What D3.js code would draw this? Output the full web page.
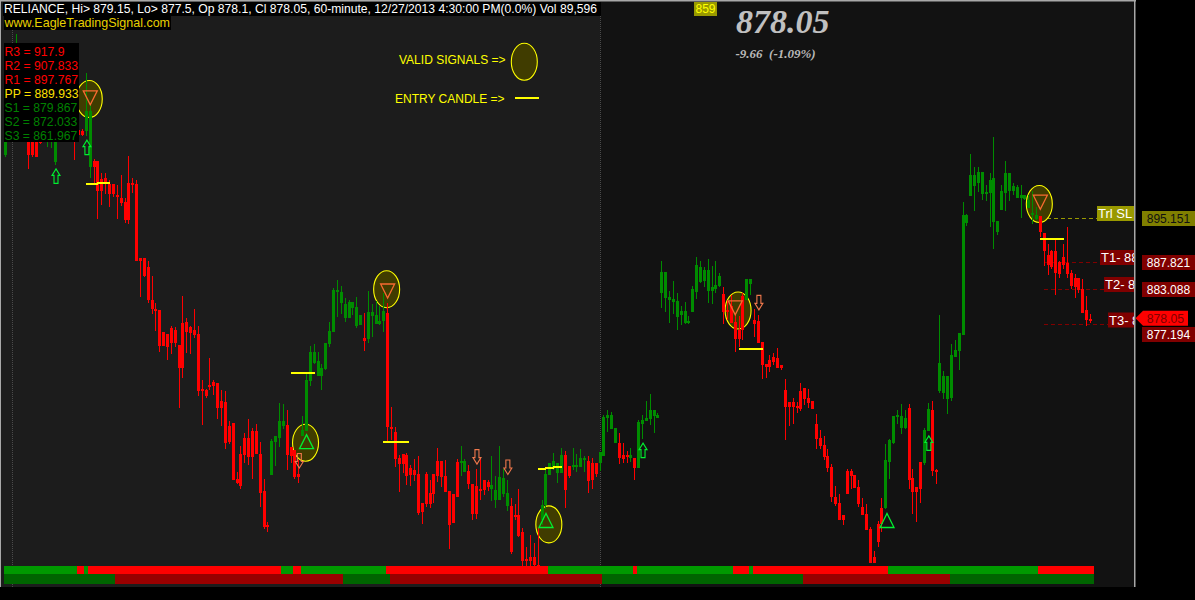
<!DOCTYPE html>
<html><head><meta charset="utf-8"><title>RELIANCE 60-minute</title>
<script src="https://cdn.jsdelivr.net/npm/d3@7/dist/d3.min.js"></script>
<style>html,body{margin:0;padding:0;background:#000;overflow:hidden}svg{display:block}text{font-family:"Liberation Sans",Arial,sans-serif}</style>
</head><body><svg id="c" width="1195" height="600"></svg>
<script>
// each row: open, high, low, close
const barsOpening = [
[905.7,910.7,905.3,909.8],[909.8,913.2,909.0,912.3],[910.0,914.0,909.0,912.0],[909.8,925.8,908.2,914.8],[910.0,915.0,909.0,913.0],[910.0,914.0,909.0,912.0],
[909.8,911.5,903.3,905.7],[909.8,911.5,905.3,905.7],[909.8,910.7,905.3,905.3],[909.0,909.8,907.5,907.7],[909.8,910.2,908.0,908.2],
[909.0,911.5,907.0,910.7],[909.0,911.8,906.8,910.7],[904.5,912.3,904.0,911.5],[909.8,913.2,909.0,912.3],[910.0,914.0,909.5,913.0],[910.0,913.5,909.5,912.5],[910.0,913.5,909.5,912.0],
[910.7,911.5,904.8,909.0],[909.8,911.5,908.0,909.0],[909.7,910.0,908.8,909.0],[909.7,919.3,908.8,913.0],[903.7,914.0,901.8,913.0]];
const barsFirstFall = [
[904.7,905.0,901.0,903.7],[904.7,904.7,895.0,899.7],[901.7,902.7,897.3,899.7],[901.8,902.7,899.2,901.2],[900.8,901.5,897.0,899.2],[900.8,900.8,898.7,899.2],
[899.0,900.7,895.0,898.7],[898.5,902.3,897.2,897.7],[897.8,898.5,894.3,894.8],[901.0,905.5,894.2,894.8],[901.0,901.8,899.3,900.7],[900.8,901.5,888.0,888.0],
[888.5,888.5,882.0,888.0],[888.5,888.5,885.3,885.5],[887.0,888.0,881.0,881.5],[881.5,885.5,879.2,880.0],[880.0,881.0,876.3,879.7],[879.8,879.8,872.8,873.8],
[876.2,876.2,873.8,873.8],[875.8,875.8,871.5,873.7],[876.8,877.2,872.5,874.3],[876.5,877.0,873.7,874.3],[874.0,874.0,863.5,870.2],[877.7,882.2,868.5,870.2],
[877.8,878.5,872.7,876.2],[877.0,877.2,872.5,876.0],[876.5,880.0,875.2,875.7],[875.8,877.2,865.5,866.3],[866.7,868.2,860.7,866.3],[866.5,866.7,865.2,865.5],
[867.3,871.8,866.5,867.2],[867.8,868.2,865.7,867.2],[867.7,867.7,861.7,863.5],[864.7,866.5,860.5,863.5],[864.5,866.3,856.7,857.7],[860.5,861.3,857.5,857.8],
[861.0,861.0,851.5,851.5],[851.7,852.8,850.8,851.0],[855.8,857.2,850.0,850.5],[858.5,859.3,854.3,855.7],[858.5,861.7,854.0,855.3],[859.7,860.2,851.7,855.3],
[859.7,860.8,855.8,855.8],[855.8,857.8,847.0,849.3],[849.7,851.7,843.3,843.7],[844.0,844.5,842.8,843.7]];
const barsFirstRise = [
[852.3,858.3,852.3,858.0],[857.8,858.8,853.8,858.8],[858.5,864.3,857.0,861.3],[860.5,864.2,860.0,861.3],[860.7,863.2,853.2,855.7],[857.0,857.0,854.3,855.5],
[856.5,856.5,851.7,852.0],[852.5,854.8,851.0,852.0],[858.8,862.2,858.8,859.8],[859.7,869.3,859.7,868.2],[868.0,873.8,867.2,872.8],[871.0,874.2,870.8,872.8],
[868.8,872.8,868.8,871.3],[868.8,870.8,866.5,870.2],[870.0,874.3,869.8,874.3],[874.2,877.8,873.7,876.3],[876.2,883.5,876.2,883.2],[883.0,884.8,878.7,883.2],
[881.0,883.8,879.2,882.8],[878.5,881.8,877.8,880.8],[878.5,881.5,878.5,881.2],[880.2,881.2,879.0,881.2],[877.2,882.0,876.8,880.3],[877.3,879.0,877.3,879.0],
[875.2,879.3,873.0,874.7],[875.0,883.0,874.3,879.5],[878.8,880.8,875.3,879.5],[877.5,881.3,877.5,879.0],[877.5,880.5,877.3,878.0],[878.0,882.7,876.2,879.7]];
const barsSecondFall = [
[879.3,881.0,857.7,860.3],[860.3,863.7,858.2,860.0],[859.5,860.3,853.7,855.0],[855.2,855.7,849.5,854.2],[855.8,855.8,852.7,854.2],[855.7,856.0,850.7,852.2],
[853.5,854.0,850.5,852.3],[853.2,855.0,851.3,852.3],[852.5,855.5,845.7,846.0],[847.7,847.7,844.2,846.2],[852.5,852.8,847.0,847.5],[849.3,851.5,846.8,847.5],
[852.5,852.5,847.7,849.2],[854.7,856.8,851.2,852.2],[854.7,854.7,850.3,852.0],[852.2,854.8,849.5,849.5],[849.7,849.7,840.0,844.0],[849.2,849.2,844.3,844.3],
[854.5,855.0,848.7,848.7],[854.3,857.2,852.2,854.7],[852.8,855.0,852.8,854.7],[853.0,854.0,850.0,850.8],[850.8,850.8,844.8,845.8],[850.5,853.3,845.0,845.8],
[850.0,855.0,848.2,849.8],[851.5,851.5,849.0,849.8],[851.2,851.5,849.7,850.3],[850.0,855.5,848.0,850.7],[848.2,852.2,846.8,849.8],[848.2,857.2,848.2,852.0],
[849.2,853.3,848.7,851.8],[847.2,851.5,846.3,849.3],[847.2,848.5,839.2,839.5],[845.7,847.5,844.8,845.5],[845.7,850.0,842.0,842.2],[842.8,843.5,837.2,838.0],
[838.3,840.3,837.2,838.2],[838.7,842.3,837.2,838.0],[838.7,841.0,837.2,837.3],[837.3,843.5,837.2,837.2]];
const barsMiddle = [
[844.8,848.2,844.0,847.3],[847.3,853.2,846.7,852.5],[852.3,854.3,852.3,854.3],[853.3,856.0,853.2,854.7],[852.7,854.3,851.0,854.3],[852.7,856.8,852.7,855.7],
[855.7,856.3,846.8,849.8],[853.8,853.8,851.8,852.2],[853.7,856.8,853.2,854.0],[853.7,855.8,852.8,854.0],[853.7,856.7,853.7,855.2],[854.8,855.5,852.8,855.2],
[854.7,855.5,849.3,851.3],[854.3,855.2,850.0,851.5],[854.3,854.3,852.0,852.5],[854.3,856.2,853.0,856.2],[855.5,862.3,855.5,862.0],[861.8,863.2,859.5,862.3],
[860.0,862.8,860.0,862.3],[857.7,860.2,857.7,860.2],[857.7,859.3,854.2,855.2],[855.7,857.7,854.3,855.0],[855.7,856.3,854.3,855.5],[855.2,856.8,854.5,855.7],
[855.2,855.2,851.5,853.5],[853.5,861.5,853.5,861.2],[860.8,862.3,858.3,861.5],[861.3,864.7,861.3,861.8],[861.7,865.8,860.7,863.2],[862.2,863.2,859.3,863.2],[861.8,862.7,861.8,862.3]];
const barsGapUp = [
[882.7,888.0,880.2,886.2],[881.8,886.2,879.5,886.2],[881.5,883.0,877.7,882.0],[881.2,884.7,879.2,881.7],[878.7,882.7,876.5,881.3],[879.0,880.5,877.3,879.7],
[877.7,881.2,877.5,879.7],[877.7,878.8,877.5,878.0],[879.5,883.8,879.5,883.3],[882.8,888.7,881.7,887.3],[884.5,888.0,884.3,887.0],[884.7,887.0,883.7,886.5],
[883.0,888.3,881.0,886.5],[883.0,887.2,880.8,883.7],[883.3,888.0,882.7,884.0],[883.8,886.0,883.7,885.5],[882.5,883.7,877.5,879.5],[879.8,881.5,878.2,879.5],
[880.5,882.3,877.7,877.7],[877.8,879.0,872.8,875.0],[876.5,878.8,873.7,875.0],[882.2,882.7,874.8,876.5],[881.5,885.0,881.5,885.0],[884.2,885.0,882.3,885.0]];
const barsThirdFall = [
[878.2,880.0,875.3,877.5],[878.0,879.0,874.3,874.3],[874.5,874.5,868.3,870.7],[870.8,870.8,868.5,870.3],[871.5,872.3,869.5,870.3],[872.0,872.7,870.7,871.2],
[871.8,873.5,870.2,870.2],[870.7,870.7,869.8,870.2],[866.5,868.3,858.2,863.7],[864.5,864.5,860.5,863.7],[864.5,865.2,860.8,863.7],[863.8,864.5,862.7,863.5],
[866.3,867.7,863.0,863.3],[866.8,866.8,864.0,865.0],[865.2,866.7,863.5,864.3],[864.7,864.7,863.3,863.3],[860.8,862.5,856.7,858.3],[858.5,859.8,856.7,857.2],
[857.3,858.8,854.8,855.3],[855.5,856.7,852.8,853.5],[853.7,854.2,847.8,848.7],[848.7,850.5,847.2,847.5],[847.7,849.2,844.8,844.8],[845.7,845.7,844.0,844.8],
[853.0,853.3,849.2,849.2],[853.0,853.3,850.0,852.2],[852.3,852.3,850.2,850.2],[850.3,851.5,847.0,847.5],[847.0,848.5,845.7,845.7],[845.8,847.5,843.2,843.2],
[843.3,843.7,837.7,837.7],[838.7,839.7,837.7,837.7],[844.2,844.7,840.3,841.2],[846.8,848.5,842.8,844.2]];
const barsSecondRise = [
[846.8,857.5,846.7,854.8],[854.5,858.3,851.7,858.2],[857.7,862.2,857.5,862.2],[862.0,863.2,860.8,862.3],[860.2,864.2,859.2,862.2],[860.2,863.2,860.0,861.8],
[863.5,864.2,850.0,851.5],[851.8,853.3,845.8,849.5],[850.3,850.3,844.5,849.5],[854.5,854.5,847.7,850.0],[854.3,860.2,854.0,859.8],[859.7,864.3,859.7,863.3],
[863.2,864.7,852.2,853.0],[853.2,853.3,850.8,853.0],[866.3,879.0,866.0,871.0],[866.0,869.7,865.0,868.8],[865.0,868.8,862.5,868.8],[865.2,874.2,864.7,872.3],
[872.0,874.8,872.0,873.2],[873.0,876.0,869.8,876.0],[875.7,897.8,875.7,895.7],[894.3,895.8,893.8,895.7],[898.8,905.8,898.8,902.3],[900.5,903.7,896.3,902.3],
[901.0,903.7,899.5,902.8],[899.2,902.8,898.2,902.8],[899.2,900.7,898.0,899.5],[899.3,902.7,893.7,901.5],[894.5,908.7,890.0,901.8],[892.8,894.7,892.3,894.7],
[896.5,900.7,896.5,899.7],[899.3,904.7,896.3,902.7],[899.7,902.7,898.0,902.7],[899.7,901.0,899.0,900.5],[898.5,900.7,898.5,900.3],[898.5,900.7,895.2,899.0],
[898.3,899.0,898.2,899.0],[896.8,899.0,896.8,898.2],[895.7,899.7,894.2,896.0],[895.0,897.0,894.8,895.7]];
const barsLastFall = [
[895.5,895.5,892.0,892.8],[892.7,892.7,887.2,889.7],[889.0,890.8,885.7,887.3],[889.7,889.8,886.7,887.0],[889.7,891.5,882.3,886.0],[887.8,888.0,885.2,885.8],
[888.7,890.8,886.7,887.3],[887.7,893.7,885.2,885.8],[886.0,886.5,883.3,883.8],[885.2,885.8,881.8,883.7],[885.2,885.2,882.7,883.2],[883.3,885.0,879.3,879.3],
[879.8,882.2,877.2,878.2],[878.3,879.2,877.7,878.2]];

// ribbons: bar where each run starts
const shortTrendStarts = [0,19,21,22,72,75,77,99,141,163,164,189,193,194,229,268];
const shortTrendState  = ["g","r","g","r","g","r","g","r","g","r","g","r","g","r","g","r"];
const longTrendStarts  = [0,29,88,100,155,207,245];
const longTrendState   = ["g","r","g","r","g","r","g"];

// signals
const validBars   = [22,99,78,141,190,268];
const validPrices = [915.0,883.3,857.7,844.1,879.75,897.5];
const triangleBars   = [22,99,78,140,189,268,228.3];
const trianglePrices = [915.2,883.0,857.9,844.75,880.2,897.8,844.75];
const triangleSide   = ["sell","sell","buy","buy","sell","sell","buy"];
const arrowBars   = [13,21,165,239,76,122,130,195];
const arrowPrices = [902.1,906.9,856.4,857.6,854.75,855.4,853.67,881.1];
const arrowSide   = ["buy","buy","buy","buy","sell","sell","sell","sell"];
const entryStart  = [21,24,74,98,138,140,142,190,268];
const entryEnd    = [24,27,80,104.5,140,142,144,196,274];
const entryPrice  = [900.8,901.0,869.3,857.8,853.3,853.5,853.7,873.3,891.7];

const pivotLabels = ["R3 = 917.9","R2 = 907.833","R1 = 897.767","PP = 889.933","S1 = 879.867","S2 = 872.033","S3 = 861.967"];
const pivotKinds  = ["r","r","r","p","s","s","s"];
const levelNames  = ["Trl SL -","T1- 88","T2- 8","T3- 8"];
const levelPrices = [895.15,887.82,883.28,877.45];
const levelTexts  = ["895.151","887.821","883.088","877.194"];
const headerText = "RELIANCE, Hi> 879.15, Lo> 877.5, Op 878.1, Cl 878.05, 60-minute, 12/27/2013 4:30:00 PM(0.0%) Vol 89,596";

const bars = [].concat(barsOpening,barsFirstFall,barsFirstRise,barsSecondFall,barsMiddle,barsGapUp,barsThirdFall,barsSecondRise,barsLastFall);
const N = bars.length;
const W=1195,H=600,panelR=1134,panelB=587,split=600;
const x = d3.scaleLinear().domain([0,N-1]).range([5.3,5.3+(N-1)*3.862]);
const y = d3.scaleLinear().domain([931.5,831.5]).range([0,600]);
const px = i => Math.floor(x(i));
const py = p => Math.round(y(p));
const svg = d3.select("#c");
svg.append("rect").attr("width",W).attr("height",H).attr("fill","#000");
svg.append("rect").attr("x",0).attr("y",0).attr("width",split).attr("height",panelB).attr("fill","#1c1c1c");
svg.append("rect").attr("x",split).attr("y",0).attr("width",panelR-split).attr("height",panelB).attr("fill","#121212");
[12.5,600.5].forEach(v=>svg.append("line").attr("x1",v).attr("x2",v).attr("y1",2).attr("y2",panelB)
  .attr("stroke","#4a4a4a").attr("stroke-dasharray","1 1").attr("shape-rendering","crispEdges"));

// level lines
const lvl = svg.append("g").attr("shape-rendering","crispEdges");
const lvlEnd=[1097,1100,1104,1108], lvlStart=[268,269,269,269], lvlCol=["#999900","#800000","#800000","#800000"];
levelPrices.forEach((p,i)=>lvl.append("line").attr("x1",x(lvlStart[i])).attr("x2",lvlEnd[i]).attr("y1",py(p)+.5).attr("y2",py(p)+.5)
  .attr("stroke",lvlCol[i]).attr("stroke-dasharray","4 3"));

// valid signal ellipses
const ellipse=(sel,cx,cy)=>sel.append("ellipse").attr("cx",cx).attr("cy",cy).attr("rx",13).attr("ry",18.5)
  .attr("fill","#403c00").attr("stroke","#ffff00").attr("stroke-width",1.1);
const ell=svg.append("g");
validBars.forEach((b,i)=>ellipse(ell,x(b)-1,y(validPrices[i])));

// candles
const UP="#008c00",DOWN="#ff0000";
const candle=svg.append("g").attr("shape-rendering","crispEdges");
candle.selectAll("rect.w").data(bars).join("rect").attr("class","w")
  .attr("x",(d,i)=>px(i)).attr("width",1).attr("y",d=>py(d[1])).attr("height",d=>Math.max(1,py(d[2])-py(d[1])))
  .attr("fill",d=>d[3]>=d[0]?UP:DOWN);
candle.selectAll("rect.b").data(bars).join("rect").attr("class","b")
  .attr("x",(d,i)=>px(i)-1).attr("width",3).attr("y",d=>py(Math.max(d[0],d[3]))).attr("height",d=>Math.max(2,py(Math.min(d[0],d[3]))-py(Math.max(d[0],d[3]))))
  .attr("fill",d=>d[3]>=d[0]?UP:DOWN);

// ribbons
const ribbon=(starts,states,top,h,g,r)=>{
  const edge=s=>Math.max(4,Math.round(x(s-0.5)));
  const gp=svg.append("g").attr("shape-rendering","crispEdges");
  gp.selectAll("rect").data(starts).join("rect")
   .attr("x",s=>edge(s))
   .attr("width",(s,i)=>(i<starts.length-1?edge(starts[i+1]):1094)-edge(s))
   .attr("y",top).attr("height",h).attr("fill",(s,i)=>states[i]==="g"?g:r);
};
ribbon(shortTrendStarts,shortTrendState,566,8,"#009900","#ff0000");
ribbon(longTrendStarts,longTrendState,574,10,"#006400","#990000");

// triangles
const tri=svg.append("g").attr("fill","none").attr("stroke-width",1.3);
triangleBars.forEach((b,i)=>{
  const cx=x(b),cy=y(trianglePrices[i]);
  const up=triangleSide[i]==="buy",s=up?1:-1;
  tri.append("path").attr("d",d3.line()([[cx-7,cy+7*s],[cx+7,cy+7*s],[cx,cy-7*s]])+"Z")
    .attr("stroke",up?"#00f030":"#f86a30");
});
// arrows
const arr=svg.append("g").attr("fill","none").attr("stroke-width",1.1);
arrowBars.forEach((b,i)=>{
  const cx=x(b)+.5,cy=y(arrowPrices[i]),up=arrowSide[i]==="buy",s=up?1:-1;
  const pts=[[0,-7.5],[4,-1],[2,-1],[2,7],[-2,7],[-2,-1],[-4,-1]].map(p=>[cx+p[0],cy+p[1]*s]);
  arr.append("path").attr("d",d3.line()(pts)+"Z").attr("stroke",up?"#00f030":"#f0784c");
});
// entry bars
const ent=svg.append("g").attr("shape-rendering","crispEdges");
entryStart.forEach((b,i)=>ent.append("rect").attr("x",px(b)).attr("width",px(entryEnd[i])-px(b)+1)
  .attr("y",py(entryPrice[i])-1).attr("height",2).attr("fill","#ffff00"));

// frame
svg.append("rect").attr("x",0).attr("y",0).attr("width",panelR+2).attr("height",1.5).attr("fill","#a8a8a8");
svg.append("rect").attr("x",0).attr("y",0).attr("width",1).attr("height",panelB).attr("fill","#a8a8a8");
svg.append("rect").attr("x",panelR).attr("y",0).attr("width",1.5).attr("height",panelB).attr("fill","#a8a8a8");

// header boxes
const txt=(t,xx,yy,fs,col,extra)=>{const e=svg.append("text").attr("x",xx).attr("y",yy).attr("font-size",fs).attr("fill",col).text(t);if(extra)extra(e);return e;};
const box=(a,b,w,h,c)=>svg.append("rect").attr("x",a).attr("y",b).attr("width",w).attr("height",h).attr("fill",c).attr("shape-rendering","crispEdges");
box(3,2,598,14,"#000");
txt(headerText,4,13,13,"#fff").attr("textLength",593).attr("lengthAdjust","spacingAndGlyphs");
box(4,16,167,14,"#000");
txt("www.EagleTradingSignal.com",4.5,27,13,"#e8d000").attr("textLength",165.5).attr("lengthAdjust","spacingAndGlyphs");
box(4,43,75,99,"#000");
const pivotCol={r:"#ff0000",p:"#ffe000",s:"#008000"};
pivotLabels.forEach((t,i)=>txt(t,4.5,55.5+i*14,12.2,pivotCol[pivotKinds[i]]));

// legend
txt("VALID SIGNALS =>",399,64,12,"#ffff00");
ellipse(svg,524.3,61.8);
txt("ENTRY CANDLE =>",395,103,12,"#ffff00");
box(515,97,24,2,"#ffff00");

// quote
box(694,2,23,13.5,"#999900");
txt("859",705.5,13,12,"#ffff00",e=>e.attr("text-anchor","middle"));
const serif=e=>e.style("font-family",'"Liberation Serif",serif').attr("font-weight","bold").attr("font-style","italic");
txt("878.05",736,33,34,"#c0c0c0",serif);
txt("-9.66  (-1.09%)",735.5,58,13,"#b8b8b8",e=>{serif(e);e.style("white-space","pre");});

// level tags inside panel, clipped at panel edge
const clip=svg.append("defs").append("clipPath").attr("id","pc").append("rect").attr("x",0).attr("y",0).attr("width",panelR).attr("height",panelB);
const tagG=svg.append("g").attr("clip-path","url(#pc)");
const tagX=[1097,1100,1104,1108],tagFill=["#999900","#800000","#800000","#800000"];
levelNames.forEach((t,i)=>{
  const cy=py(levelPrices[i])+(i===3?-4:-4.5);
  tagG.append("rect").attr("x",tagX[i]).attr("y",cy-7.5).attr("width",panelR-tagX[i]).attr("height",15).attr("fill",tagFill[i]);
  tagG.append("text").attr("x",tagX[i]+1).attr("y",cy+4.5).attr("font-size",13).attr("fill","#fff").text(t);
});
// right price tags
const tagY=[211,255,282,327],tagBg=["#807f00","#800000","#800000","#800000"],tagTx=["#111","#fff","#fff","#fff"];
levelTexts.forEach((t,i)=>{
  box(1142,tagY[i],53,15,tagBg[i]);
  txt(t,1146.7,tagY[i]+12,13,tagTx[i]).attr("textLength",43.5).attr("lengthAdjust","spacingAndGlyphs");
});
const lastY=y(bars[N-1][3])-1.5;
svg.append("path").attr("d",d3.line()([[1135.5,lastY],[1143,lastY-7.5],[1188,lastY-7.5],[1188,lastY+7.5],[1143,lastY+7.5]])+"Z").attr("fill","#ff0000");
txt("878.05",1146.7,lastY+4.5,13,"#800000").attr("textLength",37.5).attr("lengthAdjust","spacingAndGlyphs");
</script></body></html>
